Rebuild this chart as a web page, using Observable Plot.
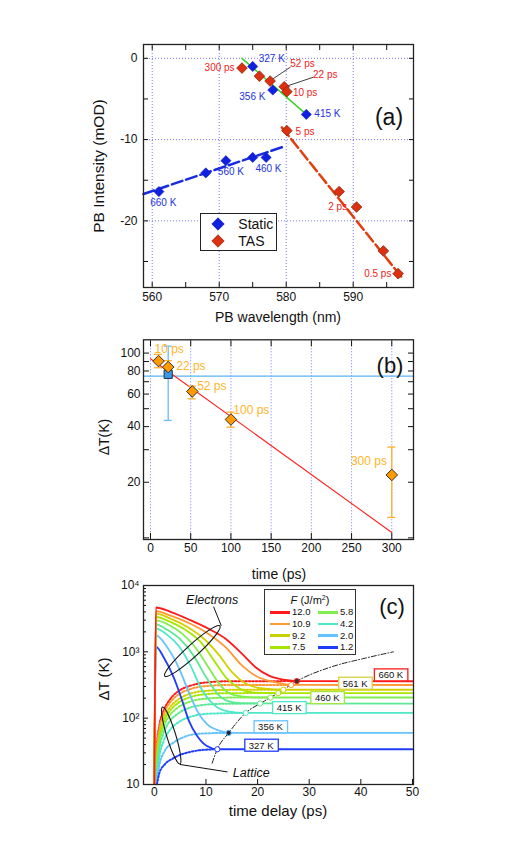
<!DOCTYPE html>
<html><head><meta charset="utf-8">
<script src="https://cdn.jsdelivr.net/npm/d3@7"></script>
<script src="https://cdn.jsdelivr.net/npm/@observablehq/plot@0.6"></script>
<style>
body{margin:0;background:#fff;font-family:"Liberation Sans",Arial,Helvetica,sans-serif;}
#wrap{position:relative;width:507px;height:844px;overflow:hidden;background:#fff}
.ov{position:absolute;white-space:nowrap;color:#111;line-height:1}
</style></head><body><div id="wrap"></div>
<script>
// ---------------- Panel (a) data ----------------
const staticWl = [575, 578, 583, 577, 575, 571, 568, 561];
const staticPB = [-1.0, -3.9, -6.9, -12.2, -12.2, -12.6, -14.1, -16.4];
const tasWl = [573.4, 576.0, 577.6, 579.7, 580.1, 580.1, 587.9, 590.5, 594.5, 596.7];
const tasPB = [-1.2, -2.2, -2.8, -3.5, -4.1, -8.9, -16.4, -18.3, -23.7, -26.5];
const staticLabels = ["327 K", "356 K", "415 K", "460 K", "560 K", "660 K"];
const staticLabelWl = [575.9, 573.0, 584.2, 575.4, 569.8, 559.7];
const staticLabelPB = [-0.1, -4.7, -6.8, -13.6, -14.0, -17.8];
const tasLabels = ["300 ps", "52 ps", "22 ps", "10 ps", "5 ps", "2 ps", "0.5 ps"];
const tasLabelWl = [572.3, 580.6, 584.0, 581.0, 581.4, 589.1, 595.7];
const tasLabelPB = [-1.2, -0.7, -2.0, -4.2, -9.0, -18.3, -26.5];
const tasLabelAnchor = ["end", "start", "start", "start", "start", "end", "end"];
const leader52 = [[580.6, -1.1], [577.6, -2.76]];
const leader22 = [[584.0, -2.34], [580.3, -3.36]];
const greenFit = [[573.4, 0.0], [583.0, -6.9]];
const redFit = [[579.35, -8.5], [597.2, -26.9]];
const blueFit = [[558.7, -16.7], [579.5, -10.9]];
const aXTicks = [560, 565, 570, 575, 580, 585, 590, 595];
const aXLabeled = [560, 570, 580, 590];
const aYTicks = [0, -5, -10, -15, -20, -25];
const aYLabeled = [0, -10, -20];

// ---------------- Panel (b) data ----------------
const bTime = [10, 22, 52, 100, 300];
const bDT = [90.5, 84, 62, 43.7, 21.9];
const bErrLo = [83.3, 78, 56.6, 39.7, 12.9];
const bErrHi = [98.4, 91, 66.3, 47.9, 31];
const bLabels = ["10 ps", "22 ps", "52 ps", "100 ps", "300 ps"];
const bLabelT = [5, 32, 58, 103, 294];
const bLabelDT = [105.6, 85, 66, 49, 26];
const bLabelAnchor = ["start", "start", "start", "start", "end"];
const bStaticT = [22], bStaticDT = [76.7], bStaticLo = [43.2], bStaticHi = [109];
const bStaticLevel = [75];
const bFit = [[0, 93.2], [300, 10.7]];
const bXTicks = [0, 50, 100, 150, 200, 250, 300];
const bYTicks = [10, 20, 30, 40, 50, 60, 70, 80, 90, 100];
const bYLabeled = [20, 40, 60, 80, 100];

// ---------------- Panel (c) data ----------------
const cColors = ["#ff1a1a", "#ff9933", "#d2d000", "#a6e600", "#80ee50", "#5ce894", "#4de8c8", "#66c2ff", "#1f3cff"];
const electrons = [
  [[0,10],[0.3,4660],[3,4050],[7,3000],[10.5,2230],[13.8,1575],[17,930],[19.6,585],[22.2,437],[25.4,377],[27.6,362],[50,360]],
  [[0,10],[0.3,4120],[3,3550],[7,2650],[10.5,1860],[13.8,1175],[17,620],[19.6,437],[23.5,346],[26.5,318],[50,316]],
  [[0,10],[0.3,3760],[3,3200],[6.5,2350],[9.5,1600],[12.5,900],[15,500],[17.5,340],[21,280],[25,268],[50,268]],
  [[0,10],[0.3,3350],[3,2850],[6,2150],[9,1400],[11.5,750],[14,400],[16.5,280],[19.5,243],[24,239],[50,239]],
  [[0,10],[0.3,2980],[3,2500],[5.5,1850],[8,1150],[10.5,580],[13,300],[15.5,222],[19,206],[22.5,205],[50,205]],
  [[0,10],[0.3,2600],[2.5,2150],[5,1550],[7.5,900],[10,420],[12.5,220],[15,175],[18,167],[50,166]],
  [[0,10],[0.3,2240],[2.5,1800],[4.8,1200],[7,620],[9.2,270],[11.5,160],[14,128],[17.7,120],[50,120]],
  [[0,10],[0.3,1770],[2.5,1175],[4.7,585],[6.3,291],[8.3,129],[10.2,81],[12.8,64],[14.4,60],[50,60]],
  [[0,10],[0.3,1200],[1.8,830],[3.75,412],[5.4,183],[6.7,91],[8.3,54],[10.2,38],[12.2,34],[50,34]]
];
const lattice = [
  [[0.2,10],[0.5,40],[1,80],[1.8,130],[3,190],[4.5,250],[7,309],[10,345],[14,360],[27.6,362]],
  [[0.25,10],[0.5,35],[1,70],[1.8,115],[3,170],[4.5,222],[7,275],[10,305],[14,316],[26.5,316]],
  [[0.3,10],[0.6,32],[1,58],[1.8,97],[3,145],[4.5,188],[7,235],[10,258],[14,267],[25,268]],
  [[0.3,10],[0.6,28],[1,50],[1.8,86],[3,128],[4.5,167],[7,208],[10,230],[14,238],[24,239]],
  [[0.35,10],[0.6,24],[1,43],[1.8,74],[3,110],[4.5,143],[7,178],[10,197],[14,204],[22.5,205]],
  [[0.35,10],[0.7,22],[1,35],[1.8,60],[3,90],[4.5,116],[7,145],[10,160],[14,165],[20.5,166]],
  [[0.4,10],[0.7,18],[1,27],[1.8,45],[3,66],[4.5,85],[7,105],[10,116],[14,119],[17.7,120]],
  [[0.4,10],[1,20],[2,32],[3.75,43],[5.5,51],[7,56],[10,59],[14.4,60]],
  [[0.5,10],[1,15],[2,20],[3.75,25],[5,28],[7,31],[9,33],[12.2,34]]
];
const cEqT = [27.6, 26.5, 25, 24, 22.5, 20.5, 17.7, 14.4, 12.2];
const cEqDT = [362, 316, 268, 239, 205, 166, 120, 60, 34];
const cEqFill = ["#333", "#fff", "#fff", "#fff", "#fff", "#fff", "#fff", "#223", "#fff"];
const cEqLine = [[11.2,21],[12.2,34],[14.4,60],[17.7,120],[21,175],[24,240],[27.6,362],[34.2,590],[40.6,795],[46.3,1000]];
const cBoxLabels = ["660 K", "561 K", "460 K", "415 K", "356 K", "327 K"];
const cBoxT = [45.8, 38.9, 33.5, 26.1, 22.5, 20.7];
const cBoxDT = [442, 331, 201, 142, 73, 38.5];
const cBoxColors = ["#ff1a1a", "#d4d040", "#a6e640", "#4de8c8", "#66c2ff", "#1f3cff"];
const legFluence = ["12.0", "10.9", "9.2", "7.5", "5.8", "4.2", "2.0", "1.2"];
const legColors = ["#ff1a1a", "#ff9933", "#c8d000", "#a6e600", "#80ee50", "#4de8c8", "#66c2ff", "#1f3cff"];
const cXTicks = [0, 10, 20, 30, 40, 50];
const cYMajor = [10, 100, 1000, 10000];
const cYMajorText = ["10", "10²", "10³", "10⁴"];
const cYMinor = [20,30,40,50,60,70,80,90,200,300,400,500,600,700,800,900,2000,3000,4000,5000,6000,7000,8000,9000];
const elecEllipse = [[2.13, 423], [12.8, 2415]];
const elecLeader = [[12.94, 2500], [11.5, 4740]];
const latEllipse = [[1.69, 145], [5.05, 20]];
const latLeader = [[5.05, 20], [14.1, 15.5]];

// ---------------- helpers ----------------
const font = "'Liberation Sans', Arial, Helvetica, sans-serif";
const wrap = document.getElementById("wrap");
function place(el, top) { el.style.position = "absolute"; el.style.left = "0px"; el.style.top = top + "px"; wrap.appendChild(el); return el; }
function ov(html, x, y, size, o = {}) {
  const d = document.createElement("div");
  d.className = "ov"; d.innerHTML = html;
  d.style.left = x + "px"; d.style.top = y + "px"; d.style.fontSize = size + "px";
  let tf = o.left ? "translate(0,-50%)" : "translate(-50%,-50%)";
  if (o.rot) tf += ` rotate(${o.rot}deg)`;
  d.style.transform = tf;
  if (o.style) Object.assign(d.style, o.style);
  wrap.appendChild(d); return d;
}
const grid = {stroke: "#4a4aff", strokeOpacity: 0.75, strokeDasharray: "1,2", strokeWidth: 1};
const baseStyle = (fs) => ({fontFamily: font, fontSize: fs, background: "transparent", color: "#111", overflow: "visible"});
const pts = (xs, ys) => xs.map((x, i) => ({x, y: ys[i]}));

// ---------------- Panel (a) ----------------
const A = Plot.plot({
  width: 507, height: 330, marginLeft: 143, marginRight: 94, marginTop: 44, marginBottom: 43,
  style: baseStyle("12px"),
  x: {domain: [558.7, 599]},
  y: {domain: [-28.2, 1.7]},
  marks: [
    Plot.gridX({ticks: aXLabeled, ...grid}),
    Plot.gridY({ticks: aYLabeled, ...grid}),
    Plot.axisX({ticks: aXTicks, tickSize: -5, tickPadding: 10, tickFormat: d => aXLabeled.includes(d) ? String(d) : "", label: null}),
    Plot.axisX({anchor: "top", ticks: aXTicks, tickSize: -5, tickFormat: () => "", label: null}),
    Plot.axisY({ticks: aYTicks, tickSize: -5, tickPadding: 11, tickFormat: d => aYLabeled.includes(d) ? String(d) : "", label: null}),
    Plot.axisY({anchor: "right", ticks: aYTicks, tickSize: -5, tickFormat: () => "", label: null}),
    Plot.line(blueFit, {x: d => d[0], y: d => d[1], stroke: "#1a2be0", strokeWidth: 2.5, strokeDasharray: "11,4"}),
    Plot.line(redFit, {x: d => d[0], y: d => d[1], stroke: "#e0400f", strokeWidth: 2.5, strokeDasharray: "11,4"}),
    Plot.line(greenFit, {x: d => d[0], y: d => d[1], stroke: "#3fd42a", strokeWidth: 1.6}),
    Plot.line(leader52, {x: d => d[0], y: d => d[1], stroke: "#111", strokeWidth: 0.8}),
    Plot.line(leader22, {x: d => d[0], y: d => d[1], stroke: "#111", strokeWidth: 0.8}),
    Plot.dot(pts(staticWl, staticPB), {x: "x", y: "y", symbol: "diamond2", r: 4.6, fill: "#1020e0", stroke: "#1020b0", strokeWidth: 0.6}),
    Plot.dot(pts(tasWl, tasPB), {x: "x", y: "y", symbol: "diamond2", r: 4.8, fill: "#dd3010", stroke: "#8a2a10", strokeWidth: 0.8}),
    Plot.text(staticLabels.map((t, i) => ({t, x: staticLabelWl[i], y: staticLabelPB[i]})), {x: "x", y: "y", text: "t", textAnchor: "start", fill: "#2233dd", fontSize: 10}),
    Plot.text(tasLabels.map((t, i) => ({t, x: tasLabelWl[i], y: tasLabelPB[i], a: tasLabelAnchor[i]})).filter(d => d.a === "start"), {x: "x", y: "y", text: "t", textAnchor: "start", fill: "#ee2222", fontSize: 10}),
    Plot.text(tasLabels.map((t, i) => ({t, x: tasLabelWl[i], y: tasLabelPB[i], a: tasLabelAnchor[i]})).filter(d => d.a === "end"), {x: "x", y: "y", text: "t", textAnchor: "end", fill: "#ee2222", fontSize: 10}),
    Plot.frame({stroke: "#222", strokeWidth: 1.3})
  ]
});
place(A, 0);

// ---------------- Panel (b) ----------------
const bPts = bTime.map((t, i) => ({t, v: bDT[i], lo: bErrLo[i], hi: bErrHi[i]}));
const bStat = bStaticT.map((t, i) => ({t, v: bStaticDT[i], lo: bStaticLo[i], hi: bStaticHi[i]}));
const bCaps = [
  ...bPts.flatMap(d => [{t: d.t, v: d.lo}, {t: d.t, v: d.hi}]).map(d => ({...d, c: "#ffae2a"})),
  ...bStat.flatMap(d => [{t: d.t, v: d.lo}, {t: d.t, v: d.hi}]).map(d => ({...d, c: "#6cbcf5"}))
];
const B = Plot.plot({
  width: 507, height: 265, marginLeft: 143, marginRight: 94, marginTop: 14.3, marginBottom: 51,
  style: baseStyle("12px"),
  x: {type: "linear", domain: [-8.7, 327]},
  y: {type: "log", domain: [9.8, 118]},
  marks: [
    Plot.gridX({ticks: bXTicks, ...grid}),
    Plot.axisX({ticks: bXTicks, tickSize: -6, tickPadding: 10, label: null}),
    Plot.axisX({anchor: "top", ticks: bXTicks, tickSize: -6, tickFormat: () => "", label: null}),
    Plot.axisY({ticks: bYTicks, tickSize: -6, tickPadding: 9, tickFormat: d => bYLabeled.includes(d) ? String(d) : "", label: null}),
    Plot.axisY({anchor: "right", ticks: bYTicks, tickSize: -6, tickFormat: () => "", label: null}),
    Plot.ruleY(bStaticLevel, {stroke: "#5ab4f5", strokeWidth: 1.3}),
    Plot.line(bFit, {x: d => d[0], y: d => d[1], stroke: "#ff2020", strokeWidth: 1.1}),
    Plot.ruleX(bStat, {x: "t", y1: "lo", y2: "hi", stroke: "#6cbcf5", strokeWidth: 1.3}),
    Plot.ruleX(bPts, {x: "t", y1: "lo", y2: "hi", stroke: "#ffae2a", strokeWidth: 1.3}),
    Plot.ruleY(bCaps, {y: "v", x1: d => d.t, x2: d => d.t, dx: 0, stroke: "c", strokeWidth: 1.3, insetLeft: -4, insetRight: -4}),
    Plot.dot(bStat, {x: "t", y: "v", symbol: "square", r: 4.6, fill: "#3a9ae8", stroke: "#234", strokeWidth: 1}),
    Plot.dot(bPts, {x: "t", y: "v", symbol: "diamond2", r: 5.2, fill: "#ff9a00", stroke: "#333", strokeWidth: 1}),
    Plot.text(bLabels.map((s, i) => ({s, t: bLabelT[i], v: bLabelDT[i], a: bLabelAnchor[i]})).filter(d => d.a === "start"), {x: "t", y: "v", text: "s", textAnchor: "start", fill: "#ffb52a", fontSize: 12}),
    Plot.text(bLabels.map((s, i) => ({s, t: bLabelT[i], v: bLabelDT[i], a: bLabelAnchor[i]})).filter(d => d.a === "end"), {x: "t", y: "v", text: "s", textAnchor: "end", fill: "#ffb52a", fontSize: 12}),
    Plot.frame({stroke: "#222", strokeWidth: 1.3})
  ]
});
place(B, 325);

// ---------------- Panel (c) ----------------
const elecData = electrons.flatMap((s, k) => s.map(([t, v]) => ({k, t, v})));
const latData = lattice.flatMap((s, k) => s.map(([t, v]) => ({k, t, v})));
const eqPts = cEqT.map((t, i) => ({t, v: cEqDT[i], k: i}));
const C = Plot.plot({
  width: 507, height: 269, marginLeft: 143, marginRight: 94, marginTop: 10, marginBottom: 60,
  style: baseStyle("12px"),
  x: {domain: [-2.1, 50.2]},
  y: {type: "log", domain: [10, 10000]},
  color: {type: "ordinal", domain: d3.range(9), range: cColors},
  marks: [
    Plot.axisX({ticks: cXTicks, tickSize: -5, tickPadding: 8, label: null}),
    Plot.axisY({ticks: cYMajor, tickSize: -5, tickPadding: 9, tickFormat: d => cYMajorText[cYMajor.indexOf(d)], label: null}),
    Plot.axisY({ticks: cYMinor, tickSize: -3, tickFormat: () => "", label: null}),
    Plot.line(latData, {x: "t", y: "v", z: "k", stroke: "k", strokeWidth: 2, strokeDasharray: "1.6,1.9", curve: "monotone-x", clip: true}),
    Plot.line(elecData, {x: "t", y: "v", z: "k", stroke: "k", strokeWidth: 1.8, curve: "monotone-x", clip: true, sort: {channel: "z", order: "descending"}}),
    Plot.line(cEqLine, {x: d => d[0], y: d => d[1], stroke: "#222", strokeWidth: 1, strokeDasharray: "5,2,1,2", curve: "monotone-x"}),
    Plot.dot(eqPts, {x: "t", y: "v", r: 2.6, stroke: "k", fill: d => cEqFill[d.k], strokeWidth: 1}),
    Plot.line(elecLeader, {x: d => d[0], y: d => d[1], stroke: "#111", strokeWidth: 1}),
    Plot.line(latLeader, {x: d => d[0], y: d => d[1], stroke: "#111", strokeWidth: 1}),
    Plot.text(["Electrons"], {x: 11.2, y: 6140, text: d => d, fontStyle: "italic", fontSize: 12.5, fill: "#111"}),
    Plot.text(["Lattice"], {x: 15.2, y: 15, text: d => d, textAnchor: "start", fontStyle: "italic", fontSize: 12.5, fill: "#111"}),
    Plot.text(cBoxLabels.map((s, i) => ({s, t: cBoxT[i], v: cBoxDT[i]})), {x: "t", y: "v", text: "s", fontSize: 9.5, fill: "#111"}),
    Plot.frame({stroke: "#222", strokeWidth: 1.3})
  ]
});
place(C, 575);
{
  const sx = C.scale("x"), sy = C.scale("y");
  const svg = d3.select(C);
  C.querySelectorAll("text").forEach(t => {
    const i = cBoxLabels.indexOf(t.textContent);
    if (i < 0) return;
    const b = t.getBBox();
    const r = document.createElementNS("http://www.w3.org/2000/svg", "rect");
    r.setAttribute("x", b.x - 4); r.setAttribute("y", b.y - 0.5);
    r.setAttribute("width", b.width + 8); r.setAttribute("height", b.height + 1);
    r.setAttribute("fill", "#fff"); r.setAttribute("stroke", cBoxColors[i]); r.setAttribute("stroke-width", 1.3);
    if (t.getAttribute("transform")) r.setAttribute("transform", t.getAttribute("transform"));
    t.parentNode.insertBefore(r, t);
  });
  function ellipse(p, ry) {
    const x1 = sx.apply(p[0][0]), y1 = sy.apply(p[0][1]), x2 = sx.apply(p[1][0]), y2 = sy.apply(p[1][1]);
    const cx = (x1 + x2) / 2, cy = (y1 + y2) / 2, rx = Math.hypot(x2 - x1, y2 - y1) / 2;
    const ang = Math.atan2(y2 - y1, x2 - x1) * 180 / Math.PI;
    svg.append("ellipse").attr("cx", 0).attr("cy", 0).attr("rx", rx).attr("ry", ry)
      .attr("transform", `translate(${cx},${cy}) rotate(${ang})`)
      .attr("fill", "none").attr("stroke", "#111").attr("stroke-width", 1.1);
  }
  ellipse(elecEllipse, 6);
  ellipse(latEllipse, 4.5);
}

// ---------------- overlays: axis labels, panel tags, legends ----------------
ov("PB Intensity (mOD)", 99, 166, 15.5, {rot: -90});
ov("PB wavelength (nm)", 278, 317, 14);
ov("(a)", 389, 117, 23);
ov("ΔT(K)", 104, 437, 14, {rot: -90});
ov("time (ps)", 279, 574, 14);
ov("(b)", 390, 366, 22);
ov("ΔT (K)", 103, 679, 15, {rot: -90});
ov("time delay (ps)", 278, 810, 15);
ov("(c)", 392, 607, 22);

// legend (a)
{
  const box = document.createElement("div");
  box.style.cssText = "position:absolute;left:200px;top:213px;width:75px;height:36px;border:1.2px solid #222;background:#fff;";
  wrap.appendChild(box);
  const items = [["Static", "#1020e0", "#1020b0", 224], ["TAS", "#dd3010", "#8a2a10", 240.7]];
  items.forEach(([name, fill, stroke, y]) => {
    ov(`<svg width="14" height="14" style="display:block"><polygon points="7,0.8 13.2,7 7,13.2 0.8,7" fill="${fill}" stroke="${stroke}" stroke-width="0.8"/></svg>`, 218.3, y, 12);
    ov(name, 238.3, y, 14, {left: true});
  });
}
// legend (c)
{
  const box = document.createElement("div");
  box.style.cssText = "position:absolute;left:264px;top:589px;width:90px;height:64px;border:1.5px solid #333;background:#fff;";
  wrap.appendChild(box);
  ov("<i>F</i> (J/m<sup style='font-size:7px;vertical-align:4px'>2</sup>)", 310, 600, 11);
  const rowY = [612.3, 624, 635.7, 647.3];
  legFluence.forEach((f, i) => {
    const col = i < 4 ? 0 : 1, row = i % 4;
    const x0 = col === 0 ? 270 : 318;
    const ln = document.createElement("div");
    ln.style.cssText = `position:absolute;left:${x0}px;top:${rowY[row] - 1.25}px;width:20px;height:2.5px;background:${legColors[i]}`;
    wrap.appendChild(ln);
    ov(f, x0 + 22, rowY[row], 9.5, {left: true});
  });
}
</script></body></html>
